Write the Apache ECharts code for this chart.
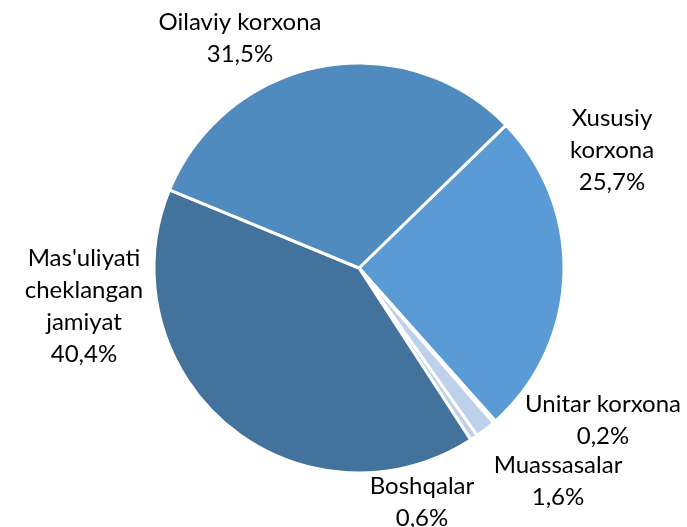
<!DOCTYPE html>
<html>
<head>
<meta charset="utf-8">
<script src="https://cdn.jsdelivr.net/npm/echarts@6/dist/echarts.min.js"></script>
<style>
html,body{margin:0;padding:0;background:#fff;}
#chart{width:687px;height:527px;}
</style>
</head>
<body>
<div id="chart"></div>
<script>
var categories = ["Xususiy\nkorxona", "Unitar korxona", "Muassasalar", "Boshqalar", "Mas'uliyati\ncheklangan\njamiyat", "Oilaviy korxona"];
var values = [25.7, 0.2, 1.6, 0.6, 40.4, 31.5];
var colors = ["#5B9BD5", "#BDD1EB", "#BDD1EB", "#BDD1EB", "#43729D", "#4F8BBE"];
// label centre positions (px) for each slice label
var labelX = [612, 603, 558, 422, 84, 240];
var labelY = [150, 420, 481, 502, 306, 38];

var chart = echarts.init(document.getElementById('chart'), null, {renderer: 'canvas'});
var data = categories.map(function (c, i) {
  return {name: c, value: values[i], itemStyle: {color: colors[i]}};
});
chart.setOption({
  animation: false,
  series: [{
    type: 'pie',
    center: [359, 268],
    radius: 205,
    startAngle: 44.2,
    clockwise: true,
    minAngle: 0,
    avoidLabelOverlap: false,
    data: data,
    itemStyle: {borderColor: '#ffffff', borderWidth: 3},
    label: {
      show: true,
      position: 'outside',
      formatter: function (p) {
        return p.name + '\n' + p.value.toFixed(1).replace('.', ',') + '%';
      },
      fontFamily: 'Lato',
      fontSize: 24,
      lineHeight: 32,
      color: '#000000',
      align: 'center'
    },
    labelLine: {show: false},
    labelLayout: function (params) {
      var i = params.dataIndex;
      return {
        x: labelX[i],
        y: labelY[i],
        align: 'center',
        verticalAlign: 'middle'
      };
    },
    emphasis: {disabled: true}
  }]
});
</script>
</body>
</html>
